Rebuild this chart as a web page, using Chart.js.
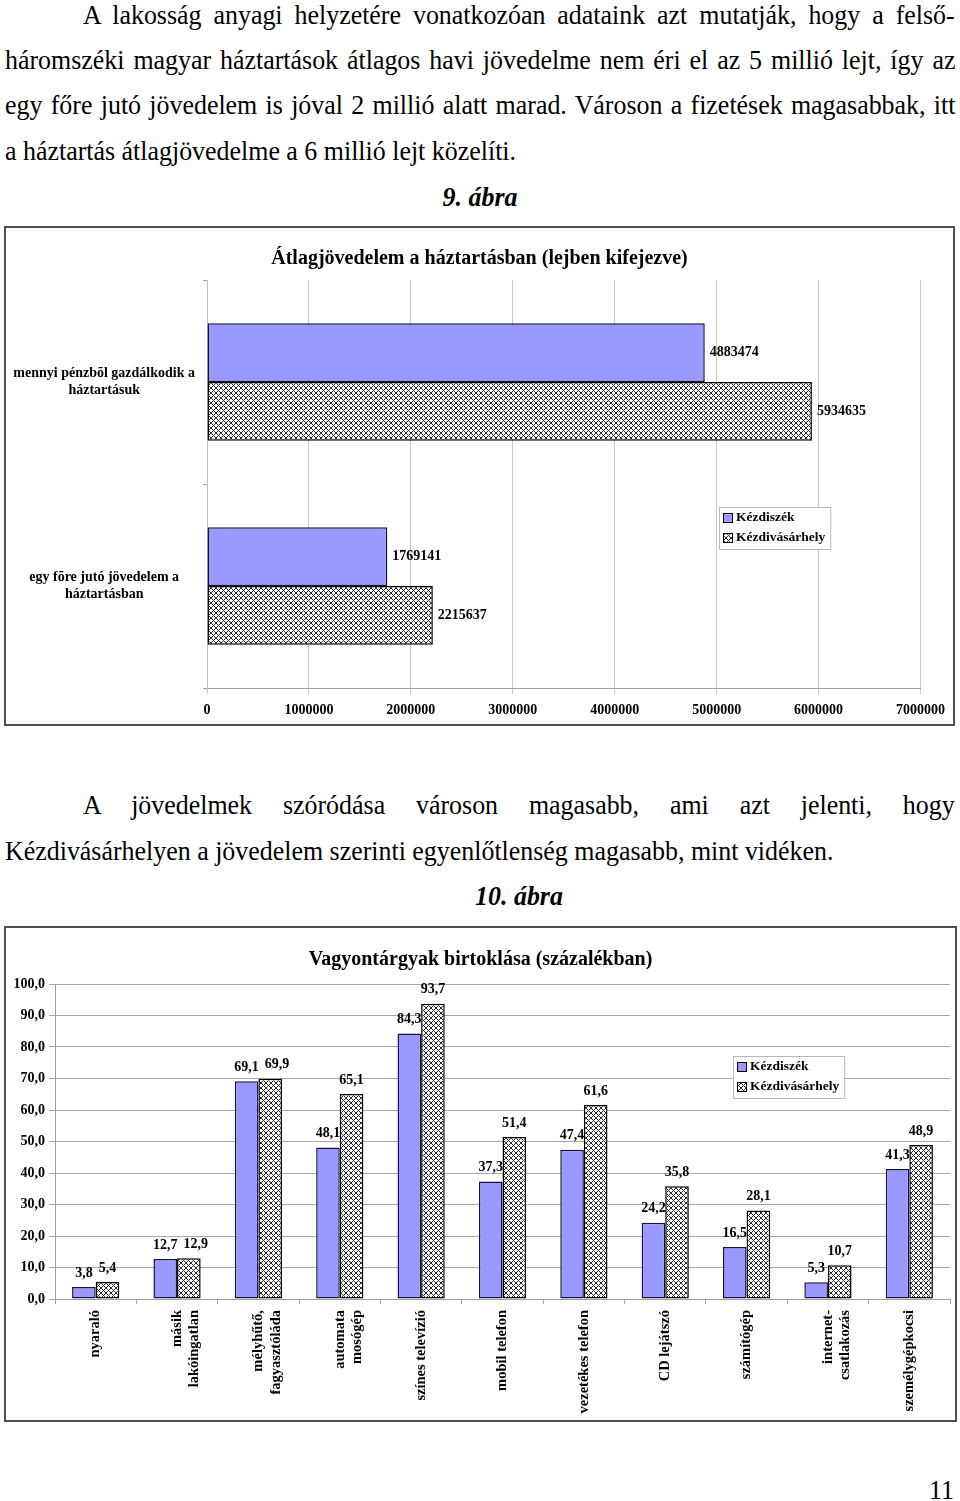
<!DOCTYPE html>
<html lang="hu">
<head>
<meta charset="utf-8">
<script src="https://cdn.jsdelivr.net/npm/chart.js@4.4.1/dist/chart.umd.min.js"></script>
<style>
  body { margin: 0; width: 960px; height: 1501px; background: #fff; position: relative; overflow: hidden;
         font-family: "Liberation Serif", serif; color: #000; }
  .ln { position: absolute; font-size: 27px; line-height: 30px; transform: scaleX(0.96); transform-origin: 0 0; }
  .just { text-align: justify; text-align-last: justify; }
  .cap { position: absolute; width: 400px; text-align: center; font-size: 27px; line-height: 30px;
         font-weight: bold; font-style: italic; transform: scaleX(0.96); }
  .box { position: absolute; border: 2px solid #505050; background: #fff; }
</style>
</head>
<body>

<div class="ln just" style="left:83px; top:0px; width:908px;">A lakosság anyagi helyzetére vonatkozóan adataink azt mutatják, hogy a felső-</div>
<div class="ln just" style="left:5px; top:45px; width:990px;">háromszéki magyar háztartások átlagos havi jövedelme nem éri el az 5 millió lejt, így az</div>
<div class="ln just" style="left:5px; top:90px; width:990px;">egy főre jutó jövedelem is jóval 2 millió alatt marad. Városon a fizetések magasabbak, itt</div>
<div class="ln" style="left:5px; top:136px; white-space:nowrap;">a háztartás átlagjövedelme a 6 millió lejt közelíti.</div>
<div class="cap" style="left:280px; top:182px;">9. ábra</div>

<div class="box" style="left:4px; top:226px; width:947px; height:496px;"><canvas id="incomeChart"></canvas></div>

<div class="ln just" style="left:83px; top:790px; width:908px;">A jövedelmek szóródása városon magasabb, ami azt jelenti, hogy</div>
<div class="ln" style="left:5px; top:836px; white-space:nowrap;">Kézdivásárhelyen a jövedelem szerinti egyenlőtlenség magasabb, mint vidéken.</div>
<div class="cap" style="left:319px; top:881px;">10. ábra</div>

<div class="box" style="left:4px; top:926px; width:949px; height:492px;"><canvas id="assetChart"></canvas></div>

<div class="ln" style="left:929px; top:1475px;">11</div>

<script>
// series names (legend)
const seriesNames = ["Kézdiszék", "Kézdivásárhely"];

// 9. ábra - average income
const incomeTitle = "Átlagjövedelem a háztartásban (lejben kifejezve)";
const incomeCats = [["mennyi pénzbõl gazdálkodik a", "háztartásuk"], ["egy fõre jutó jövedelem a", "háztartásban"]];
const incomeKezdiszek = [4883474, 1769141];
const incomeVasarhely = [5934635, 2215637];
const incomeTicks = [0, 1000000, 2000000, 3000000, 4000000, 5000000, 6000000, 7000000];

// 10. ábra - assets
const assetTitle = "Vagyontárgyak birtoklása (százalékban)";
const assetCats = ["nyaraló", ["másik", "lakóingatlan"], ["mélyhűtő,", "fagyasztóláda"], ["automata", "mosógép"],
  "színes televízió", "mobil telefon", "vezetékes telefon", "CD lejátszó", "számítógép",
  ["internet-", "csatlakozás"], "személygépkocsi"];
const assetKezdiszek = [3.8, 12.7, 69.1, 48.1, 84.3, 37.3, 47.4, 24.2, 16.5, 5.3, 41.3];
const assetVasarhely = [5.4, 12.9, 69.9, 65.1, 93.7, 51.4, 61.6, 35.8, 28.1, 10.7, 48.9];
const assetTicks = [0, 10, 20, 30, 40, 50, 60, 70, 80, 90, 100];

const FONT = '"Liberation Serif", serif';
const blue = "#9999ff";

function crossHatch() {
  const n = 5;
  const c = document.createElement("canvas");
  c.width = n; c.height = n;
  const g = c.getContext("2d");
  g.fillStyle = "#fff";
  g.fillRect(0, 0, n, n);
  g.fillStyle = "#2a2a2a";
  for (let i = 0; i < n; i++) {
    g.fillRect(i, i, 1, 1);
    g.fillRect(n - 1 - i, i, 1, 1);
  }
  return g.createPattern(c, "repeat");
}
const hatch = crossHatch();

const comma1 = (v) => Number(v).toFixed(1).replace(".", ",");

// empty axis on the right, only keeps the plot away from the frame
// (layout padding would push the title off centre)
function spacerAxis(type, width) {
  return {
    type: type,
    position: "right",
    grid: { display: false },
    border: { display: false },
    ticks: { display: false },
    afterFit: (s) => { s.width = width; }
  };
}

// value labels next to / above the bars, nudged right when two labels collide
function valueLabels(fmt) {
  return {
    id: "valueLabels",
    afterDatasetsDraw(chart) {
      const ctx = chart.ctx;
      const horizontal = chart.options.indexAxis === "y";
      const placed = {};
      ctx.save();
      ctx.font = "bold 14px " + FONT;
      ctx.fillStyle = "#000";
      ctx.textBaseline = "middle";
      chart.data.datasets.forEach((ds, i) => {
        chart.getDatasetMeta(i).data.forEach((bar, j) => {
          const txt = fmt(ds.data[j]);
          const w = ctx.measureText(txt).width;
          if (horizontal) {
            ctx.textAlign = "left";
            ctx.fillText(txt, bar.x + 5, bar.y);
          } else {
            let cx = bar.x;
            const cy = bar.y - 14;
            const prev = placed[j];
            if (prev && Math.abs(prev.cy - cy) < 12 && cx - w / 2 < prev.right + 4) {
              cx = prev.right + 6 + w / 2;
            }
            placed[j] = { cy: cy, right: cx + w / 2 };
            ctx.textAlign = "center";
            ctx.fillText(txt, cx, cy);
          }
        });
      });
      ctx.restore();
    }
  };
}

// small boxed legend placed inside the plot
function boxLegend(x, y) {
  return {
    id: "boxLegend",
    afterDraw(chart) {
      const ctx = chart.ctx;
      const rowH = 20;
      ctx.save();
      ctx.font = "bold 13.5px " + FONT;
      const names = chart.data.datasets.map((d) => d.label);
      const w = Math.max(...names.map((n) => ctx.measureText(n).width)) + 22;
      const h = rowH * names.length + 2;
      ctx.fillStyle = "#fff";
      ctx.fillRect(x, y, w, h);
      ctx.strokeStyle = "#b8b8b8";
      ctx.lineWidth = 1;
      ctx.strokeRect(x + 0.5, y + 0.5, w, h);
      chart.data.datasets.forEach((d, i) => {
        const cy = y + 11 + i * rowH;
        ctx.fillStyle = d.backgroundColor;
        ctx.fillRect(x + 4, cy - 5, 10, 10);
        ctx.strokeStyle = "#000";
        ctx.strokeRect(x + 4.5, cy - 4.5, 9, 9);
        ctx.fillStyle = "#000";
        ctx.textAlign = "left";
        ctx.textBaseline = "middle";
        ctx.fillText(d.label, x + 17, cy);
      });
      ctx.restore();
    }
  };
}

// 9. ábra
new Chart(document.getElementById("incomeChart"), {
  type: "bar",
  data: {
    labels: incomeCats,
    datasets: [
      { label: seriesNames[0], data: incomeKezdiszek, backgroundColor: blue, borderColor: "#14143c",
        borderWidth: 1.5, borderSkipped: false, categoryPercentage: 0.575, barPercentage: 1 },
      { label: seriesNames[1], data: incomeVasarhely, backgroundColor: hatch, borderColor: "#000",
        borderWidth: 1.5, borderSkipped: false, categoryPercentage: 0.575, barPercentage: 1 }
    ]
  },
  options: {
    indexAxis: "y",
    responsive: true,
    maintainAspectRatio: false,
    animation: false,
    layout: { padding: { top: 10, right: 0, left: 0, bottom: 0 } },
    plugins: {
      legend: { display: false },
      tooltip: { enabled: false },
      title: { display: true, text: incomeTitle, color: "#000",
        font: { family: FONT, size: 20, weight: "bold" }, padding: { top: 9, bottom: 9 } }
    },
    scales: {
      x: {
        min: incomeTicks[0],
        max: incomeTicks[incomeTicks.length - 1],
        afterBuildTicks: (s) => { s.ticks = incomeTicks.map((v) => ({ value: v })); },
        ticks: { callback: (v) => String(v), color: "#000", padding: 8,
          font: { family: FONT, size: 14, weight: "bold" } },
        grid: { color: "#c8c8c8", tickLength: 6 },
        border: { color: "#a0a0a0" },
        afterFit: (s) => { s.height = 36; }
      },
      y: {
        ticks: { crossAlign: "center", color: "#000", padding: 8,
          font: { family: FONT, size: 14, weight: "bold" } },
        grid: { offset: true, drawOnChartArea: false, tickLength: 4, color: "#a0a0a0" },
        border: { color: "#c0c0c0" },
        afterFit: (s) => { s.width = 201; }
      },
      yRight: spacerAxis("category", 32)
    }
  },
  plugins: [valueLabels((v) => String(v)), boxLegend(713, 279)]
});

// 10. ábra
new Chart(document.getElementById("assetChart"), {
  type: "bar",
  data: {
    labels: assetCats,
    datasets: [
      { label: seriesNames[0], data: assetKezdiszek, backgroundColor: blue, borderColor: "#14143c",
        borderWidth: 1.5, borderSkipped: false, categoryPercentage: 0.58, barPercentage: 1 },
      { label: seriesNames[1], data: assetVasarhely, backgroundColor: hatch, borderColor: "#000",
        borderWidth: 1.5, borderSkipped: false, categoryPercentage: 0.58, barPercentage: 1 }
    ]
  },
  options: {
    responsive: true,
    maintainAspectRatio: false,
    animation: false,
    layout: { padding: { top: 10, right: 0, left: 0, bottom: 0 } },
    plugins: {
      legend: { display: false },
      tooltip: { enabled: false },
      title: { display: true, text: assetTitle, color: "#000",
        font: { family: FONT, size: 20, weight: "bold" }, padding: { top: 10, bottom: 12 } }
    },
    scales: {
      x: {
        ticks: { minRotation: 90, maxRotation: 90, autoSkip: false, color: "#000", padding: 6,
          font: { family: FONT, size: 14.5, weight: "bold" } },
        grid: { offset: true, drawOnChartArea: false, tickLength: 5, color: "#a0a0a0" },
        border: { color: "#a0a0a0" },
        afterFit: (s) => { s.height = 121; }
      },
      y: {
        min: assetTicks[0],
        max: assetTicks[assetTicks.length - 1],
        afterBuildTicks: (s) => { s.ticks = assetTicks.map((v) => ({ value: v })); },
        ticks: { callback: (v) => comma1(v), color: "#000", padding: 4,
          font: { family: FONT, size: 14, weight: "bold" } },
        grid: { color: "#a8a8a8", tickLength: 6 },
        border: { color: "#a0a0a0" },
        afterFit: (s) => { s.width = 49; }
      },
      yRight: spacerAxis("linear", 5)
    }
  },
  plugins: [valueLabels(comma1), boxLegend(727, 128)]
});
</script>
</body>
</html>
